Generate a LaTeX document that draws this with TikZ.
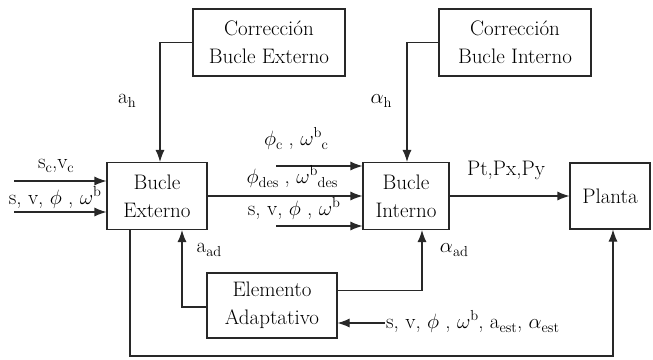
\documentclass[tikz,border=0pt]{standalone}
\usepackage{fontspec}
\usetikzlibrary{arrows.meta,positioning,calc}
\definecolor{LineGray}{RGB}{40,40,40}
\newcommand{\lo}[1]{\raisebox{-0.55ex}{\fontsize{14.5}{15}\selectfont #1}}
\newcommand{\hi}[1]{\raisebox{0.85ex}{\fontsize{14.5}{15}\selectfont #1}}
\tikzset{
  blk/.style={draw=LineGray, line width=1.1pt, align=center, inner sep=0pt},
  sig/.style={-{Latex[length=12pt,width=9pt]}, line width=1.1pt, LineGray},
  lbl/.style={inner sep=0pt, anchor=base}
}
\begin{document}
\begin{tikzpicture}[x=1pt,y=-1pt,font=\fontsize{21}{28}\selectfont]
      \useasboundingbox (0,0) rectangle (653,359);
      % bloques
      \node[blk, minimum width=100pt, minimum height=67pt] (bext) at (157,196) {Bucle\\Externo};
      \node[blk, minimum width=86pt, minimum height=67pt] (bint) at (406,196) {Bucle\\Interno};
      \node[blk, minimum width=80pt, minimum height=66pt] (planta) at (610,196) {Planta};
      \node[blk, minimum width=152pt, minimum height=67pt] (cext) at (269,42.5) {Corrección\\Bucle Externo};
      \node[blk, minimum width=152pt, minimum height=67pt] (cint) at (515,42.5) {Corrección\\Bucle Interno};
      \node[blk, minimum width=130pt, minimum height=65pt] (adap) at (272,305.5) {Elemento\\Adaptativo};
      % entradas
      \coordinate (in1) at (14,181);
      \coordinate (in2) at (14,212);
      \coordinate (sc) at (276,166);
      \coordinate (sm) at (276,226);
      \coordinate (sest) at (385,323);
      \coordinate (fb) at (613,356);
      \draw[sig] (in1) -- (in1 -| bext.west);
      \draw[sig] (in2) -- (in2 -| bext.west);
      \draw[sig] (cext.west) -| ([xshift=3pt]bext.north);
      \draw[sig] (cint.west) -| ([xshift=1pt]bint.north);
      \draw[sig] (bext.east) -- (bint.west);
      \draw[sig] (sc) -- (sc -| bint.west);
      \draw[sig] (sm) -- (sm -| bint.west);
      \draw[sig] (bint.east) -- (planta.west);
      \draw[sig] ([yshift=-1.5pt]adap.west) -| ([xshift=25pt]bext.south);
      \draw[sig] ([yshift=15pt]adap.east) -| ([xshift=16pt]bint.south);
      \draw[sig] (sest) -- (sest -| adap.east);
      \draw[sig] ([xshift=-27pt]bext.south) |- (fb) -- (fb |- planta.south);
      % etiquetas
      \node[lbl] (lsc) at (56,168) {s\lo{c},v\lo{c}};
      \node[lbl] (lsv) at (55,204) {s, v, $\phi$ , $\omega$\hi{b}};
      \node[lbl] (lphc) at (296,145) {$\phi$\lo{c} , $\omega$\hi{b}\lo{c}};
      \node[lbl] (lphd) at (292,183) {$\phi$\lo{des} , $\omega$\hi{b}\lo{des}};
      \node[lbl] (lsv2) at (294,215) {s, v, $\phi$ , $\omega$\hi{b}};
      \node[lbl] (lp) at (506,175) {Pt,Px,Py};
      \node[lbl] (lah) at (127,103) {a\lo{h}};
      \node[lbl] (lalh) at (381,103) {$\alpha$\lo{h}};
      \node[lbl] (laad) at (209,252) {a\lo{ad}};
      \node[lbl] (lalad) at (454,252) {$\alpha$\lo{ad}};
      \node[lbl, anchor=base west] (lest) at (386,328) {s, v, $\phi$ , $\omega$\hi{b}, a\lo{est}, $\alpha$\lo{est}};
    \end{tikzpicture}
\end{document}
